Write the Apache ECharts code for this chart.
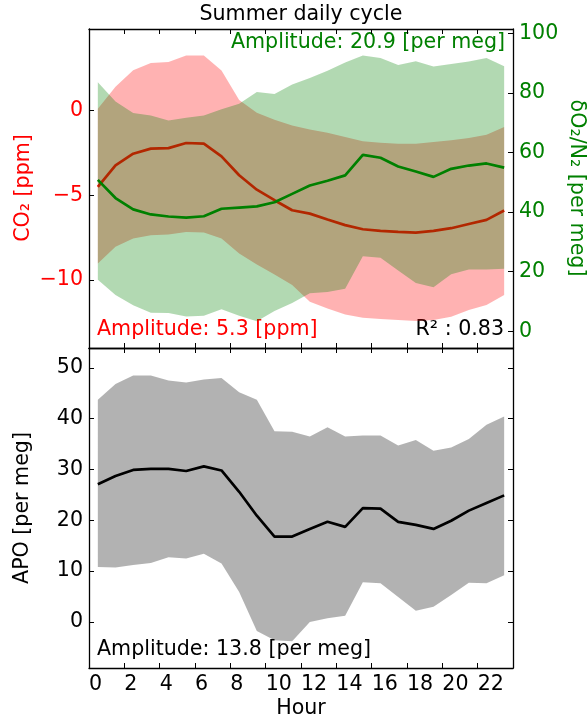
<!DOCTYPE html>
<html><head><meta charset="utf-8">
<script src="https://cdn.jsdelivr.net/npm/echarts@6/dist/echarts.min.js"></script>
<style>html,body{margin:0;padding:0;background:#fff}#c{width:588px;height:722px}</style>
</head><body><div id="c"></div><script>
// ---- data ----
const hours = [0.5,1.5,2.5,3.5,4.5,5.5,6.5,7.5,8.5,9.5,10.5,11.5,12.5,13.5,14.5,15.5,16.5,17.5,18.5,19.5,20.5,21.5,22.5,23.5];
const xTicks = [0,2,4,6,8,10,12,14,16,18,20,22];
const co2Mean  = [-4.51,-3.24,-2.55,-2.25,-2.22,-1.92,-1.96,-2.71,-3.82,-4.67,-5.29,-5.88,-6.08,-6.43,-6.76,-7.0,-7.1,-7.16,-7.2,-7.1,-6.94,-6.69,-6.45,-5.9];
const co2Upper = [0.1,1.4,2.37,2.8,2.86,3.24,3.24,2.35,0.62,-0.14,-0.55,-0.88,-1.12,-1.31,-1.57,-1.82,-1.9,-1.96,-1.96,-1.86,-1.76,-1.63,-1.43,-0.98];
const co2Lower = [-9.02,-8.04,-7.55,-7.35,-7.31,-7.16,-7.2,-7.55,-8.43,-9.08,-9.67,-10.29,-11.27,-11.67,-12.02,-12.22,-12.29,-12.35,-12.41,-12.35,-12.16,-11.76,-11.47,-10.88];
const o2Mean  = [50.8,44.7,40.9,39.2,38.5,38.1,38.6,41.1,41.5,41.9,43.3,46.1,48.9,50.5,52.3,59.2,58.2,55.3,53.6,51.8,54.5,55.6,56.3,54.9];
const o2Upper = [83.5,77.1,73.2,72.4,70.7,71.6,72.4,74.5,76.3,80.3,79.6,82.8,85.0,87.4,90.2,92.5,91.7,89.3,90.6,88.8,89.7,90.5,91.7,88.9];
const o2Lower = [17.3,12.2,8.7,6.2,6.1,5.0,5.2,7.4,5.2,3.4,6.8,9.5,12.8,13.2,14.3,25.2,24.7,20.4,16.2,14.8,19.1,20.7,20.7,21.0];
const apoMean  = [27.1,28.7,29.9,30.1,30.1,29.7,30.6,29.8,25.6,20.9,16.8,16.8,18.3,19.7,18.7,22.4,22.3,19.7,19.1,18.3,19.9,21.9,23.4,24.9];
const apoUpper = [43.7,46.8,48.5,48.5,47.5,47.1,47.7,48.0,45.2,43.7,37.5,37.4,36.5,38.3,36.5,36.7,36.7,34.7,35.8,33.7,34.3,36.0,38.8,40.4];
const apoLower = [10.8,10.7,11.2,11.6,12.7,12.5,13.4,11.5,5.9,-1.8,-3.6,-3.8,0.0,0.7,1.2,7.8,7.6,4.9,2.2,3.0,5.3,7.7,7.6,9.2];
const co2Ticks = [-10,-5,0];
const o2Ticks = [0,20,40,60,80,100];
const apoTicks = [0,10,20,30,40,50];

// ---- chart ----
const F = 'DejaVu Sans';
const FS = 20.6;
const chart = echarts.init(document.getElementById('c'), null, {renderer:'canvas'});
const minus = v => String(v).replace('-', '\u2212');
const pairs = arr => hours.map((h,i)=>[h, arr[i]]);

function band(lower, upper, xi, yi, color, z) {
  const data = hours.map((h,i)=>[h, lower[i], upper[i]]);
  return {type:'custom', xAxisIndex:xi, yAxisIndex:yi, data:data, silent:true, z:z,
    encode:{x:0, y:[1,2]},
    renderItem:function(params, api){
      if (params.dataIndex !== 0) return null;
      const pts = [];
      for (let i=0;i<data.length;i++) pts.push(api.coord([data[i][0], data[i][2]]));
      for (let i=data.length-1;i>=0;i--) pts.push(api.coord([data[i][0], data[i][1]]));
      return {type:'polygon', shape:{points:pts}, style:{fill:color, stroke:null}};
    }};
}
function line(data, xi, yi, color, z) {
  return {type:'line', xAxisIndex:xi, yAxisIndex:yi, data: pairs(data), symbol:'none',
    lineStyle:{color:color, width:2.7}, silent:true, z:z};
}
const axLine = {show:true, onZero:false, lineStyle:{color:'#000', width:1.3}};
const tick = {show:true, inside:true, length:5, lineStyle:{color:'#000', width:1}};
function xAx(grid, pos, showLabel) {
  return {type:'value', gridIndex:grid, position:pos, min:0, max:24, interval:2,
    splitLine:{show:false}, axisLine:axLine, axisTick:tick,
    axisLabel:{show:showLabel, align:'left', margin:6, fontSize:FS, fontFamily:F, color:'#000',
      formatter: v => xTicks.indexOf(v) >= 0 ? String(v) : ''}};
}
function yAx(grid, pos, min, max, ticks, color, showLabel) {
  return {type:'value', gridIndex:grid, position:pos, min:min, max:max,
    splitLine:{show:false}, axisLine:axLine,
    axisTick:Object.assign({}, tick, {customValues:ticks}),
    axisLabel:{show:showLabel, customValues:ticks, margin:6, fontSize:FS, fontFamily:F, color:color, formatter:minus}};
}
function txt(x, y, text, color, align, rot) {
  return {type:'text', x:x, y:y, rotation:rot||0, silent:true,
    style:{text:text, fill:color, font: FS+'px "'+F+'"', align:align, verticalAlign:'middle'}};
}

chart.setOption({
  animation:false,
  grid:[
    {left:89, top:29, width:424, height:319, outerBoundsMode:'none'},
    {left:89, top:348, width:424, height:320, outerBoundsMode:'none'}
  ],
  xAxis:[xAx(0,'bottom',false), xAx(0,'top',false), xAx(1,'bottom',true), xAx(1,'top',false)],
  yAxis:[
    yAx(0,'left',-14,4.8,co2Ticks,'#ff0000',true),
    yAx(0,'right',-5.6,101.4,o2Ticks,'#008000',true),
    yAx(1,'left',-9.07,53.9,apoTicks,'#000',true),
    yAx(1,'right',-9.07,53.9,apoTicks,'#000',false)
  ],
  series:[
    band(co2Lower, co2Upper, 0, 0, 'rgba(255,0,0,0.3)', 1),
    line(co2Mean, 0, 0, '#ff0000', 2),
    band(o2Lower, o2Upper, 0, 1, 'rgba(0,128,0,0.3)', 3),
    line(o2Mean, 0, 1, '#008000', 4),
    band(apoLower, apoUpper, 2, 2, 'rgba(0,0,0,0.3)', 1),
    line(apoMean, 2, 2, '#000', 2)
  ],
  graphic:[
    txt(301, 15, 'Summer daily cycle', '#000', 'center'),
    txt(505, 43, 'Amplitude: 20.9 [per meg]', '#008000', 'right'),
    txt(97, 330, 'Amplitude: 5.3 [ppm]', '#ff0000', 'left'),
    txt(504, 330, 'R\u00b2 : 0.83', '#000', 'right'),
    txt(97, 650, 'Amplitude: 13.8 [per meg]', '#000', 'left'),
    txt(24, 188, 'CO\u2082 [ppm]', '#ff0000', 'center', Math.PI/2),
    txt(576, 188, '\u03b4O\u2082/N\u2082 [per meg]', '#008000', 'center', -Math.PI/2),
    txt(23, 508, 'APO [per meg]', '#000', 'center', Math.PI/2),
    txt(301, 709, 'Hour', '#000', 'center')
  ]
});
</script></body></html>
